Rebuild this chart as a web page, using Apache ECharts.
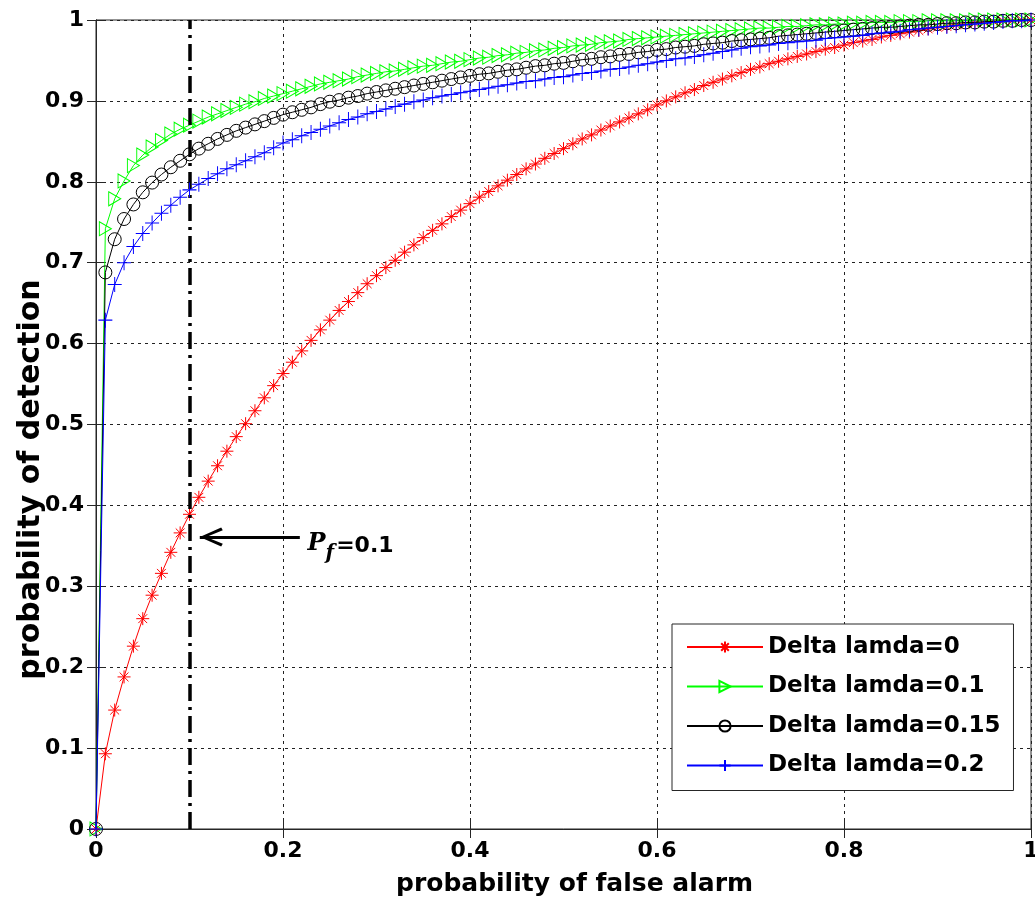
<!DOCTYPE html>
<html><head><meta charset="utf-8">
<script src="https://cdn.jsdelivr.net/npm/echarts@6/dist/echarts.min.js"></script>
<style>html,body{margin:0;padding:0;background:#fff}#c{width:1035px;height:906px}</style>
</head><body><div id="c"></div>
<script>
// probability of false alarm (x)
const pf = [0,0.01,0.02,0.03,0.04,0.05,0.06,0.07,0.08,0.09,0.10,0.11,0.12,0.13,0.14,0.15,0.16,0.17,0.18,0.19,0.20,
0.21,0.22,0.23,0.24,0.25,0.26,0.27,0.28,0.29,0.30,0.31,0.32,0.33,0.34,0.35,0.36,0.37,0.38,0.39,0.40,
0.41,0.42,0.43,0.44,0.45,0.46,0.47,0.48,0.49,0.50,0.51,0.52,0.53,0.54,0.55,0.56,0.57,0.58,0.59,0.60,
0.61,0.62,0.63,0.64,0.65,0.66,0.67,0.68,0.69,0.70,0.71,0.72,0.73,0.74,0.75,0.76,0.77,0.78,0.79,0.80,
0.81,0.82,0.83,0.84,0.85,0.86,0.87,0.88,0.89,0.90,0.91,0.92,0.93,0.94,0.95,0.96,0.97,0.98,0.99,1.00];

// probability of detection, one array per Delta lamda
const pdDelta0 = [0,0.093,0.147,0.188,0.226,0.260,0.289,0.316,0.342,0.366,0.389,0.410,0.430,0.449,0.467,0.485,0.501,0.517,0.533,0.548,0.563,
0.577,0.591,0.604,0.617,0.629,0.641,0.652,0.663,0.674,0.684,0.694,0.703,0.713,0.722,0.731,0.740,0.748,0.757,0.765,0.773,
0.781,0.788,0.795,0.802,0.809,0.816,0.822,0.829,0.835,0.841,0.847,0.853,0.858,0.864,0.869,0.874,0.879,0.884,0.889,0.895,
0.900,0.905,0.910,0.914,0.919,0.923,0.927,0.931,0.935,0.939,0.942,0.946,0.949,0.952,0.955,0.958,0.961,0.964,0.966,0.969,
0.972,0.974,0.976,0.979,0.981,0.983,0.985,0.987,0.989,0.991,0.992,0.994,0.995,0.996,0.997,0.998,0.999,0.999,1.000,1.000];

const pdDelta01 = [0,0.742,0.779,0.801,0.820,0.833,0.843,0.851,0.859,0.865,0.870,0.875,0.880,0.884,0.888,0.892,0.896,0.899,0.903,0.906,0.909,
0.912,0.915,0.918,0.921,0.923,0.925,0.927,0.930,0.932,0.934,0.936,0.937,0.939,0.941,0.943,0.944,0.946,0.948,0.949,0.951,
0.953,0.954,0.956,0.957,0.959,0.960,0.962,0.963,0.965,0.966,0.968,0.969,0.970,0.972,0.973,0.974,0.976,0.977,0.978,0.979,
0.980,0.981,0.982,0.983,0.984,0.985,0.986,0.987,0.988,0.989,0.990,0.990,0.991,0.992,0.992,0.993,0.994,0.994,0.995,0.995,
0.996,0.996,0.997,0.997,0.997,0.998,0.998,0.998,0.999,0.999,0.999,0.999,0.999,1.000,1.000,1.000,1.000,1.000,1.000,1.000];

const pdDelta015 = [0,0.688,0.729,0.754,0.772,0.787,0.799,0.809,0.818,0.826,0.834,0.841,0.847,0.853,0.858,0.863,0.867,0.871,0.875,0.879,0.883,
0.886,0.889,0.892,0.896,0.899,0.901,0.904,0.906,0.909,0.911,0.913,0.915,0.917,0.919,0.921,0.923,0.925,0.927,0.929,0.931,
0.933,0.934,0.936,0.938,0.939,0.941,0.943,0.944,0.946,0.947,0.949,0.951,0.952,0.954,0.955,0.957,0.958,0.960,0.961,0.963,
0.964,0.966,0.967,0.968,0.970,0.971,0.972,0.974,0.975,0.976,0.977,0.978,0.980,0.981,0.982,0.983,0.984,0.985,0.986,0.987,
0.988,0.989,0.990,0.991,0.991,0.992,0.993,0.994,0.994,0.995,0.996,0.996,0.997,0.997,0.998,0.998,0.999,0.999,1.000,1.000];

const pdDelta02 = [0,0.629,0.673,0.700,0.720,0.736,0.749,0.761,0.771,0.781,0.790,0.797,0.804,0.810,0.816,0.821,0.826,0.831,0.836,0.842,0.848,
0.852,0.857,0.861,0.865,0.869,0.873,0.877,0.880,0.884,0.887,0.890,0.893,0.896,0.899,0.901,0.904,0.906,0.908,0.910,0.912,
0.914,0.916,0.918,0.920,0.922,0.924,0.925,0.927,0.929,0.930,0.932,0.934,0.935,0.937,0.939,0.940,0.942,0.944,0.946,0.948,
0.950,0.952,0.953,0.955,0.957,0.959,0.961,0.963,0.965,0.967,0.968,0.969,0.971,0.972,0.973,0.974,0.975,0.977,0.978,0.979,
0.980,0.981,0.983,0.984,0.985,0.986,0.988,0.989,0.990,0.991,0.992,0.993,0.994,0.995,0.996,0.997,0.998,0.999,0.999,1.000];

const seriesNames = ['Delta lamda=0','Delta lamda=0.1','Delta lamda=0.15','Delta lamda=0.2'];
const xTickStep = 0.2;
const yTickStep = 0.1;
const pfThreshold = 0.1;          // vertical dash-dot line
const arrowY = 0.361;             // arrow annotation height
const arrowFromX = 0.218, arrowToX = 0.111, labelX = 0.2257;
const annotationText = ['P', 'f', '=0.1'];

const FONT = 'DejaVu Sans';
const SYM = {
  star: 'path://M0,5 L10,5 M5,0 L5,10 M1.6,1.6 L8.4,8.4 M1.6,8.4 L8.4,1.6',
  tri: 'path://M0,0 L10,5 L0,10 Z',
  plus: 'path://M0,5 L10,5 M5,0 L5,10',
  chevron: 'path://M0,9 L20,0 L21.5,2.6 L6,9 L21.5,15.4 L20,18 Z'
};
const cols = ['#ff0000', '#00ff00', '#000000', '#0000ff'];
const syms = [SYM.star, SYM.tri, 'circle', SYM.plus];
const sizes = [[13,13],[12,14],13,[14,15]];
const allY = [pdDelta0, pdDelta01, pdDelta015, pdDelta02];

const chart = echarts.init(document.getElementById('c'), null, {renderer: 'canvas'});

const series = allY.map((ys, i) => ({
  name: seriesNames[i],
  type: 'line',
  data: pf.map((x, k) => [x, ys[k]]),
  symbol: syms[i],
  symbolSize: sizes[i],
  showAllSymbol: true,
  clip: false,
  lineStyle: {color: cols[i], width: 1},
  itemStyle: {color: 'none', borderColor: cols[i], borderWidth: 1},
  emphasis: {disabled: true},
  z: 3 + i
}));

series.push({
  name: 'annot', type: 'line', data: [], silent: true,
  markLine: {
    silent: true, symbol: 'none', animation: false,
    label: {show: false},
    lineStyle: {color: '#000', width: 3.5, type: [17, 6, 3, 6]},
    data: [[{coord: [pfThreshold, 0]}, {coord: [pfThreshold, 1]}]]
  },
  z: 2
});
series.push({
  name: 'arrow', type: 'line', data: [], silent: true,
  markLine: {
    silent: true, symbol: 'none', animation: false,
    label: {show: false},
    lineStyle: {color: '#000', width: 3, type: 'solid'},
    data: [[{coord: [arrowFromX, arrowY]}, {coord: [arrowToX, arrowY]}]]
  },
  markPoint: {
    silent: true, animation: false,
    data: [
      {coord: [arrowToX, arrowY], symbol: SYM.chevron, symbolSize: [23, 19], symbolOffset: [11.5, 0],
       itemStyle: {color: '#000'}, label: {show: false}},
      {coord: [labelX, arrowY], symbol: 'circle', symbolSize: 1, itemStyle: {color: 'rgba(0,0,0,0)'},
       label: {show: true, position: 'right', distance: 0, offset: [0, 4],
         formatter: '{p|' + annotationText[0] + '}{s|' + annotationText[1] + '}{t|' + annotationText[2] + '}',
         rich: {
           p: {fontFamily: 'DejaVu Serif', fontStyle: 'italic', fontWeight: 'bold', fontSize: 24, color: '#000', verticalAlign: 'bottom', lineHeight: 30},
           s: {fontFamily: 'DejaVu Serif', fontStyle: 'italic', fontWeight: 'bold', fontSize: 20, color: '#000', verticalAlign: 'bottom', lineHeight: 30, padding: [0, 2, -8, 0]},
           t: {fontFamily: 'DejaVu Sans', fontWeight: 'bold', fontSize: 22, color: '#000', verticalAlign: 'bottom', lineHeight: 30, padding: [0, 0, -1, 0]}
         }}}
    ]
  },
  z: 10
});

const axisCommon = {
  type: 'value', min: 0, max: 1,
  axisLine: {show: true, lineStyle: {color: '#262626', width: 1}},
  axisTick: {show: true, inside: true, length: 9, lineStyle: {color: '#262626'}},
  minorTick: {show: false}
};

chart.setOption({
  animation: false,
  backgroundColor: '#fff',
  grid: {left: 96, right: 4, top: 20, bottom: 77, show: true, borderColor: '#262626', borderWidth: 1,
         backgroundColor: 'transparent', containLabel: false, outerBoundsMode: 'none'},
  legend: {
    orient: 'vertical', left: 672, top: 624,
    data: seriesNames,
    backgroundColor: '#fff', borderColor: '#262626', borderWidth: 1,
    padding: [11, 13, 13, 14],
    itemWidth: 76, itemHeight: 14, itemGap: 15.5,
    textStyle: {fontFamily: FONT, fontWeight: 'bold', fontSize: 23, color: '#000', lineHeight: 24},
    selectedMode: false
  },
  xAxis: [
    Object.assign({}, axisCommon, {
      interval: xTickStep, position: 'bottom',
      name: 'probability of false alarm', nameLocation: 'middle', nameGap: 43, nameMoveOverlap: false,
      nameTextStyle: {fontFamily: FONT, fontWeight: 'bold', fontSize: 25, color: '#000', padding: [0, 0, 0, 22]},
      axisLabel: {fontFamily: FONT, fontWeight: 'bold', fontSize: 22, color: '#000', margin: 11},
      splitLine: {show: true, lineStyle: {color: '#222', width: 1, type: [3, 4]}}
    }),
    Object.assign({}, axisCommon, {
      interval: xTickStep, position: 'top',
      axisLabel: {show: false}, splitLine: {show: false}
    })
  ],
  yAxis: [
    Object.assign({}, axisCommon, {
      interval: yTickStep, position: 'left',
      name: 'probability of detection', nameLocation: 'middle', nameGap: 50, nameMoveOverlap: false,
      nameTextStyle: {fontFamily: FONT, fontWeight: 'bold', fontSize: 30, color: '#000', padding: [0, 110, 0, 0]},
      axisLabel: {fontFamily: FONT, fontWeight: 'bold', fontSize: 22, color: '#000', margin: 12},
      splitLine: {show: true, lineStyle: {color: '#222', width: 1, type: [3, 4]}}
    }),
    Object.assign({}, axisCommon, {
      interval: yTickStep, position: 'right',
      axisLabel: {show: false}, splitLine: {show: false}
    })
  ],
  series: series
});
</script></body></html>
